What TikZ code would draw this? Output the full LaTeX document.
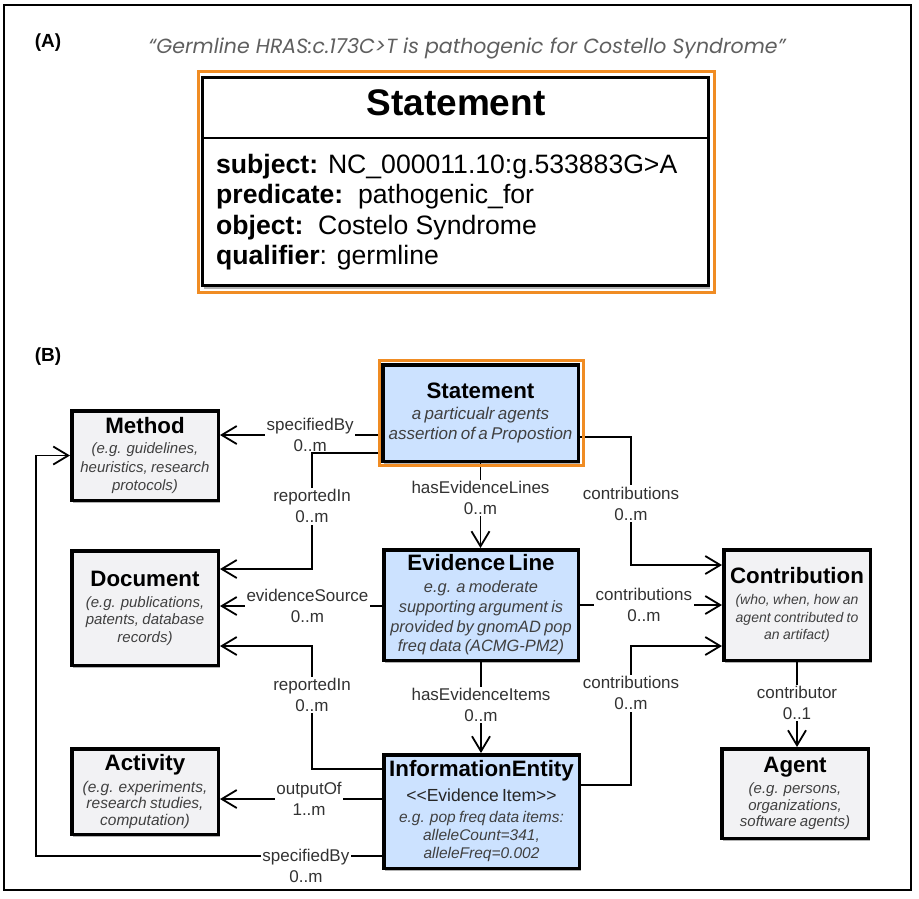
\documentclass[tikz,border=0pt]{standalone}
\usepackage{fontspec}
\setmainfont{Liberation Sans}
\newfontfamily\quotefont{Poppins}
\usetikzlibrary{arrows.meta,shadows}
\definecolor{boxgray}{RGB}{242,242,244}
\definecolor{boxblue}{RGB}{204,226,255}
\definecolor{frameorange}{RGB}{240,140,35}
\definecolor{lblgray}{RGB}{50,50,50}
\definecolor{subgray}{RGB}{64,64,64}
\definecolor{quotegray}{RGB}{95,95,95}
\newcommand\bxttl[1]{{\fontsize{22.3}{22.5}\selectfont\bfseries\textcolor{black}{#1}\par}}
\newcommand\bxsub[4]{\vspace{#1pt}{\fontsize{#2}{#3}\selectfont\itshape\textcolor{subgray}{#4}\par}}
\tikzset{
  umlbox/.style={draw=black, line width=3.5pt, fill=boxgray, inner sep=0pt, align=center,
    execute at begin node={\parindent=0pt},
    drop shadow={shadow xshift=1.5pt, shadow yshift=-3pt, opacity=0.3, fill=black}},
  bluebox/.style={umlbox, fill=boxblue},
  conn/.style={line width=1.8pt, -{Straight Barb[length=15pt,width=18pt]}},
  lbl/.style={fill=white, text=lblgray, font=\fontsize{17}{21}\selectfont, align=center, inner sep=1.5pt},
  orangeframe/.style={draw=frameorange, line width=3pt},
  bodyline/.style={anchor=base west, inner sep=0pt, font=\fontsize{26.6}{30}\selectfont},
}
\begin{document}
\begin{tikzpicture}[x=1pt,y=-1pt]
\useasboundingbox (0,0) rectangle (919,898);
\draw[line width=2.5pt] (4,5) rectangle (911,890);

% ---------- (A) ----------
\node[font=\fontsize{19}{19}\selectfont\bfseries] (labA) at (48,43) {(A)};
\node[font=\quotefont\fontsize{20.5}{22}\selectfont\itshape, text=quotegray] (quote) at (467,48)
  {“Germline HRAS:c.173C>T is pathogenic for Costello Syndrome”};
\node[draw=black, line width=3pt, fill=white, minimum width=506pt, minimum height=208pt, inner sep=0pt,
  drop shadow={shadow xshift=1pt, shadow yshift=-3pt, opacity=0.3, fill=black}] (stA) at (455.5,181.5) {};
\coordinate (dv) at (0,138);
\draw[line width=2.5pt] (stA.west |- dv) -- (stA.east |- dv);
\draw[orangeframe] (198.5,71.5) rectangle (714.5,292.5);
\node[font=\fontsize{37}{37}\selectfont\bfseries] (stAtitle) at (456,103) {Statement};
\node[bodyline] (subj) at (216,173) {\textbf{subject:} NC\_000011.10:g.533883G>A};
\node[bodyline] (pred) at (216,203.5) {\textbf{predicate:}\ \ pathogenic\_for};
\node[bodyline] (obj) at (216,234) {\textbf{object:}\ \ Costelo Syndrome};
\node[bodyline] (qual) at (216,264.5) {\textbf{qualifier}: germline};

% ---------- (B) ----------
\node[font=\fontsize{19}{19}\selectfont\bfseries] (labB) at (48,357) {(B)};

\node[umlbox, minimum width=146.5pt, minimum height=89.5pt, text width=146pt] (method) at (145,455.5)
  {\bxttl{Method}\bxsub{1.5}{15}{18.5}{(e.g. guidelines,\\heuristics, research\\protocols)}};
\node[umlbox, minimum width=146.5pt, minimum height=114.5pt, text width=146pt] (doc) at (145,608)
  {\bxttl{Document}\bxsub{3.5}{15}{17.5}{(e.g. publications,\\patents, database\\records)}};
\node[umlbox, minimum width=146.5pt, minimum height=85.5pt, text width=146pt] (act) at (145,791.5)
  {\bxttl{Activity}\bxsub{5}{15.5}{16.5}{(e.g. experiments,\\research studies,\\computation)}};
\node[bluebox, minimum width=195.5pt, minimum height=96.5pt, text width=195pt] (stB) at (480.5,413)
  {\bxttl{Statement}\bxsub{1}{17}{20}{a particualr agents\\assertion of a Propostion}};
\node[bluebox, minimum width=194.5pt, minimum height=110.5pt, text width=194pt] (ev) at (481,605)
  {\bxttl{Evidence Line}\bxsub{2.3}{16.4}{19.7}{e.g. a moderate\\supporting argument is\\provided by gnomAD pop\\freq data (ACMG-PM2)}};
\node[bluebox, minimum width=195.5pt, minimum height=113.5pt, text width=195pt] (ie) at (481.5,811.5)
  {\bxttl{InformationEntity}{\fontsize{17.5}{24.5}\selectfont\textcolor{black!85}{<{}<Evidence Item>{}>}\par}\bxsub{3.5}{15.5}{18}{e.g. pop freq data items:\\alleleCount=341,\\alleleFreq=0.002}};
\node[umlbox, minimum width=146.5pt, minimum height=110.5pt, text width=146pt] (contr) at (797,605)
  {\bxttl{Contribution}\bxsub{3.5}{14}{17.5}{(who, when, how an\\agent contributed to\\an artifact)}};
\node[umlbox, minimum width=146.5pt, minimum height=89.5pt, text width=146pt] (agent) at (795,793.5)
  {\bxttl{Agent}\bxsub{4.5}{15}{16.5}{(e.g. persons,\\organizations,\\software agents)}};

% connectors
\coordinate (ya) at (0,435);
\draw[conn] (stB.west |- ya) -- node[lbl,pos=0.44]{specifiedBy\\0..m} (method.east |- ya);
\coordinate (rb) at (312,453); \coordinate (rd) at (0,569);
\draw[conn] (stB.west |- rb) -- (rb) |- node[lbl,pos=0.23]{reportedIn\\0..m} (doc.east |- rd);
\draw[conn] (stB.south) -- node[lbl,pos=0.41]{hasEvidenceLines\\0..m} (stB.south |- ev.north);
\coordinate (cb) at (631,437); \coordinate (cd) at (0,565);
\draw[conn] (stB.east |- cb) -- (cb) |- node[lbl,pos=0.26]{contributions\\0..m} (contr.west |- cd);
\coordinate (es) at (0,606);
\draw[conn] (ev.west |- es) -- node[lbl,pos=0.46]{evidenceSource\\0..m} (doc.east |- es);
\draw[conn] (ev.east) -- node[lbl,pos=0.45]{contributions\\0..m} (ev.east -| contr.west);
\draw[conn] (ev.south) -- node[lbl,pos=0.47]{hasEvidenceItems\\0..m} (ev.south |- ie.north);
\coordinate (rb2) at (312,769); \coordinate (rd2) at (0,646);
\draw[conn] (ie.west |- rb2) -- (rb2) |- node[lbl,pos=0.3]{reportedIn\\0..m} (doc.east |- rd2);
\coordinate (ob) at (0,799);
\draw[conn] (ie.west |- ob) -- node[lbl,pos=0.45]{outputOf\\1..m} (act.east |- ob);
\coordinate (sb) at (36,856);
\draw[conn] (ie.west |- sb) -- node[lbl,pos=0.22,yshift=-10pt]{specifiedBy\\0..m} (sb) |- (method.west);
\coordinate (kb) at (631,785); \coordinate (kd) at (0,646);
\draw[conn] (ie.east |- kb) -- (kb) |- node[lbl,pos=0.33]{contributions\\0..m} (contr.west |- kd);
\draw[conn] (contr.south) -- node[lbl,pos=0.48]{contributor\\0..1} (contr.south |- agent.north);

\draw[orangeframe] (379.5,360.5) rectangle (583.5,465.5);
\end{tikzpicture}
\end{document}
